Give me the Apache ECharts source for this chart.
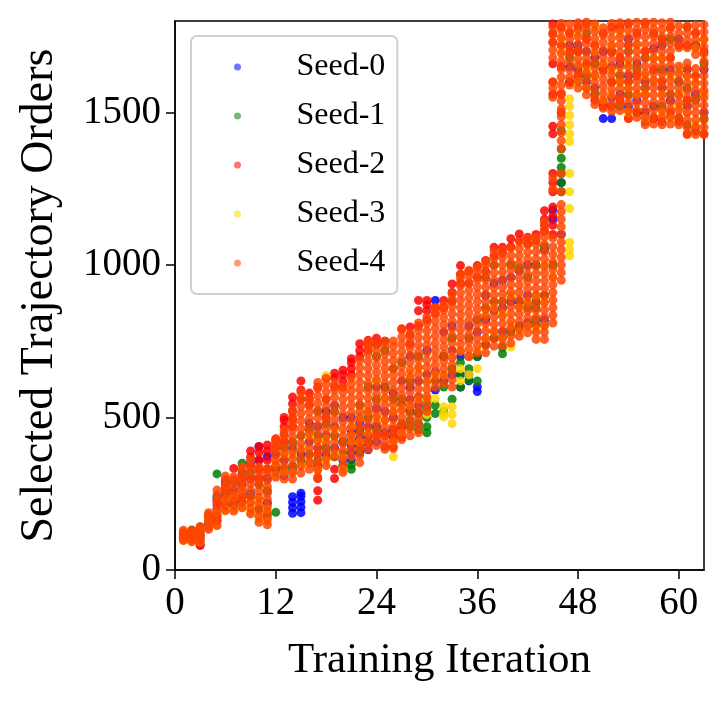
<!DOCTYPE html>
<html>
<head>
<meta charset="utf-8">
<script src="https://cdn.jsdelivr.net/npm/echarts@6/dist/echarts.min.js"></script>
<style>
  html, body { margin: 0; padding: 0; background: #fff; }
  #chart { width: 723px; height: 705px; }
</style>
</head>
<body>
<div id="chart"></div>
<script>
// training iterations (x positions of the columns)
const iterations = [1,2,3,4,5,6,7,8,9,10,11,12,13,14,15,16,17,18,19,20,21,22,23,24,25,26,27,28,29,30,31,32,
  33,34,35,36,37,38,39,40,41,42,43,44,45,46,47,48,49,50,51,52,53,54,55,56,57,58,59,60,61,62,63];
const xTicks = [0, 12, 24, 36, 48, 60];
const yTicks = [0, 500, 1000, 1500];
const seedNames = ["Seed-0", "Seed-1", "Seed-2", "Seed-3", "Seed-4"];
const seedColors = ["#0000ff", "#008000", "#ff0000", "#ffd700", "#ff4500"];

// selected trajectory orders, one list per iteration
const seed0Orders = [
  [104,120],[100,126],[84,112],[150,176],[160,200,238],[210,250,290],[214,262],[222,280,318],
  [250,300,350],[300,360,404],[220,300,372],[330,380],[310,360,420],[186,204,222,240,330,400],
  [188,206,224,242,252,380],[350,420,480],[340,400,470],[380,440,520],[400,470,540],[360,420,500],
  [362,384,406,430,452,500],[384,408,432,456,480,502],[394,416,440,470,520],[420,470,530,600],
  [450,520,600],[440,500,580],[470,540,620],[520,560,600,700],[515,540,565,620],[560,640,720],
  [590,650,884],[620,700,780],[640,720,800],[600,640,700],[620,640,700,800],[585,600,700,780],
  [740,820,900],[760,850,940],[780,860,950],[790,880,960],[800,880,980],[810,900,1000],
  [800,880,1000],[820,900,1050],[1150,1180],[1100,1270],[1650,1720],[1640,1720],[1600,1700],
  [1580,1680],[1480,1522,1700],[1480,1550,1650],[1560,1660],[1520,1620,1740],[1540,1660],
  [1500,1600],[1520,1710],[1580,1720],[1540,1640],[1600,1740],[1520,1640],[1560,1720],[1500,1640]
];
const seed1Orders = [
  [110],[116,130],[120,140],[160],[180,230,315],[240,280],[230,290],[260,350],
  [240,320],[200,280],[180,260],[189,340],[330,400],[340,420],[360,440],[380,460],
  [360,440,520],[400,480],[371,440,520],[340,380,420],[330,345,420],[390,460,540],[420,500,600],
  [460,560,700,740],[600,720,750],[460,560,660],[480,560,680],[470,490,520,620],[460,480,513,700],
  [450,470,500,530,556],[513,540,620],[520,600,700],[560,660,760],[600,640,680],[622,660,760],
  [620,700,820],[740,860,960],[760,880,1000],[709,730,764,880],[780,900,1000],[790,880,990],
  [800,860,960],[820,860,880,1000],[800,900,1060],[1000],[1240,1270,1300,1320,1350,1380,1440],
  [1600,1680],[1600,1700],[1620,1760],[1560,1660],[1530,1640],[1600,1700],[1520,1620],
  [1560,1700],[1500,1640],[1580,1680],[1480,1600],[1520,1640],[1560,1740],[1480,1600],
  [1460,1580],[1540,1720],[1480,1660]
];
const seed2Orders = [
  [100,118],[98,124],[80,100],[140,180],[170,220],[220,270],[240,333],[240,300],
  [300,340,370,390],[300,330,360,385,405],[330,360,390,410],[400,420,430],[420,445,470,490,500],
  [470,495,520,545,567],[560,590,620],[540,560,580],[229,260,300,340,380,600],[500,560,630],
  [300,330,600,630,645],[600,620,640,655],[640,660,680,693],[415,700,720,742],[415,720,740,753],
  [442,740,760],[404,440,750],[404,430,460],[436,470,790],[740,770,797],[800,850,884],
  [820,851,870,884],[840,860],[860,884],[880,910,938],[940,970,998],[940,980],[960,998],
  [980,1015],[1030,1058],[1040,1058],[1060,1086],[1080,1102],[1070,1091],[1080,1100],
  [1110,1130,1150,1178],
  [1100,1130,1160,1190,1240,1270,1300,1430,1455,1560,1600,1660,1730,1760,1790],
  [1500,1560,1650,1720,1780],[1600,1700,1760],[1620,1700,1780],[1580,1660,1740,1790],
  [1540,1620,1720],[1520,1640,1760],[1520,1600,1700,1780],[1540,1680,1780],[1480,1600,1720,1790],
  [1500,1620,1760],[1470,1560,1700,1790],[1480,1640,1760],[1470,1600,1740],[1500,1680,1780],
  [1470,1560,1720],[1430,1540,1720,1780],[1440,1620,1760],[1430,1560,1700]
];
const seed3Orders = [
  [96,112],[92,108],[92,130],[140,170],[146,190],[200,230],[198,240],[210,260],
  [190,220],[170,230],[160,200],[310,350],[320,380],[320,380],[340,400],[350,440],
  [330,420],[360,430,638],[380,460],[330,370],[420,440,470],[420,500],[450,520],[500,620],
  [491,560],[371,420,520],[450,530],[540,640],[560,660],[510,562,620],[562,640],
  [502,513,535,640],[480,510,535,700],[620,660,720],[640,700],[660,720],[760,840],[780,860],
  [760,840],[731,800,900],[780,860],[800,880],[790,900],[800,880,1000],[960],[1700,1740],
  [1030,1050,1075,1185,1240,1300,1405,1430,1460,1490,1520,1545],
  [1600,1660,1760],[1580,1640],[1620,1700,1780],[1540,1660],[1560,1640,1720],[1600,1760],
  [1500,1580,1660],[1560,1720],[1480,1560,1620],[1600,1680],[1500,1560,1680],[1480,1620],
  [1520,1560,1640],[1500,1620],[1460,1600,1710],[1560,1740]
];
const seed4Orders = [
  [97,104,111,118,125,130],[93,100,108,115,123,131],[88,97,106,116,125,134,143],
  [133,144,156,167,178,188],[146,162,179,196,212,229,246,262],[194,211,228,245,262,279,296,308],
  [193,210,227,244,261,278,295,306],[204,221,239,256,274,291,309,326,338],
  [184,203,222,241,262,283,304,324,343,362],[156,176,196,217,238,259,280,300,321,338],
  [148,168,189,210,231,252,273,294,314,333],[304,322,341,360,378,397,414,428],
  [298,318,339,360,381,402,422,441,458],[298,320,343,366,389,412,435,458,481,503,524],
  [318,342,366,391,415,440,464,489,513,537,560,582],[330,353,377,400,424,448,471,495,518,542,562],
  [304,328,352,377,401,426,450,474,499,523,547,571,595,615],
  [342,366,390,414,439,463,487,511,536,560,584,608,628],
  [372,396,420,444,469,493,517,541,566,590,612],
  [320,343,367,391,415,439,463,487,511,535,559,583,600],
  [372,396,420,444,468,492,516,540,564,588,610,630],
  [352,376,400,424,448,472,496,520,544,568,592,616,640,664,688],
  [396,420,444,468,492,516,540,564,588,612,636,660,684,708,730,748],
  [408,432,456,480,504,528,552,576,600,624,648,672,696,720,742],
  [396,420,444,468,492,516,540,564,588,612,636,660,684,708,732,750],
  [398,422,446,470,494,518,542,566,590,614,638,662,686,710,733,751],
  [428,452,476,500,524,548,572,596,620,644,668,692,716,740,764,790],
  [440,464,488,512,536,560,584,608,632,656,680,704,728,752,776],
  [450,474,498,522,546,570,594,618,642,666,690,714,738,762,786,810],
  [520,544,568,592,616,640,664,688,712,736,760,784,808,830],
  [600,624,648,672,696,720,744,768,792,816,840,860],
  [612,636,660,684,708,732,756,780,804,828,852,870],
  [600,624,648,672,696,720,744,768,792,816,840,864,888,906],
  [716,740,764,788,812,836,860,884,908,932,956,970],
  [700,724,748,772,796,820,844,868,892,916,940,964,982],
  [712,736,760,784,808,832,856,880,904,928,952,976,993],
  [712,736,760,784,808,832,856,880,904,928,952,976,1000,1012],
  [734,758,782,806,830,854,878,902,926,950,974,998,1022,1046],
  [736,760,784,808,832,856,880,904,928,952,976,1000,1024,1048],
  [744,768,792,816,840,864,888,912,936,960,984,1008,1032,1056],
  [766,790,814,838,862,886,910,934,958,982,1006,1030,1054,1078],
  [778,802,826,850,874,898,922,946,970,994,1018,1042,1066,1088],
  [756,780,804,828,852,876,900,924,948,972,996,1020,1044,1068,1088],
  [756,780,804,828,852,876,900,924,948,972,996,1020,1044,1068,1092,1116,1140],
  [810,835,860,885,910,935,960,985,1010,1035,1060,1088,1250,1285,1550,1580,1600,1680,1705,1730,1755,1780],
  [950,975,1000,1025,1050,1075,1100,1125,1150,1175,1198,1240,1300,1382,1408,1434,1460,1486,1512,1538,
   1564,1590,1616,1642,1668,1694,1720,1746,1772,1792],
  [1590,1615,1640,1665,1690,1715,1740,1765,1790],
  [1580,1604,1628,1652,1676,1700,1724,1748,1772,1794],
  [1558,1582,1606,1630,1654,1678,1702,1726,1750,1774,1796],
  [1526,1550,1574,1598,1622,1646,1670,1694,1718,1742,1766,1790],
  [1514,1538,1562,1586,1610,1634,1658,1682,1706,1730,1754,1778],
  [1504,1528,1552,1576,1600,1624,1648,1672,1696,1720,1744,1768,1792],
  [1506,1530,1554,1578,1602,1626,1650,1674,1698,1722,1746,1770,1794],
  [1482,1506,1530,1554,1578,1602,1626,1650,1674,1698,1722,1746,1770,1794],
  [1484,1508,1532,1556,1580,1604,1628,1652,1676,1700,1724,1748,1772,1796],
  [1460,1484,1508,1532,1556,1580,1604,1628,1652,1676,1700,1724,1748,1772,1796],
  [1462,1486,1510,1534,1558,1582,1606,1630,1654,1678,1702,1726,1750,1774,1796],
  [1460,1484,1508,1532,1556,1580,1604,1628,1652,1676,1700,1724,1748,1772,1794],
  [1462,1486,1510,1534,1558,1582,1606,1630,1654,1678,1702,1726,1750,1774,1796],
  [1460,1484,1508,1532,1556,1580,1604,1628,1652,1712,1736,1760,1784],
  [1428,1452,1476,1500,1524,1548,1572,1596,1620,1644,1662,1712,1736,1760,1784],
  [1428,1452,1476,1500,1524,1548,1572,1596,1620,1644,1690,1714,1738,1762,1786],
  [1428,1452,1476,1500,1524,1548,1572,1596,1620,1644,1668,1692,1716,1740,1764,1788]
];
const allOrders = [seed0Orders, seed1Orders, seed2Orders, seed3Orders, seed4Orders];

const FONT = "Liberation Serif";

function toPoints(orders) {
  const pts = [];
  orders.forEach((col, i) => {
    col.forEach(v => pts.push([iterations[i], v]));
  });
  return pts;
}

const chart = echarts.init(document.getElementById("chart"));

chart.setOption({
  animation: false,
  textStyle: { fontFamily: FONT },
  grid: {
    left: 175, right: 19, top: 21, bottom: 135,
    show: true, borderColor: "#000", borderWidth: 1.5
  },
  legend: {
    orient: "vertical",
    left: 191, top: 36,
    padding: [15, 12, 15, 43],
    itemGap: 17,
    itemWidth: 20, itemHeight: 7,
    icon: "circle",
    itemStyle: { opacity: 0.55 },
    backgroundColor: "#fff",
    borderColor: "#d0d0d0", borderWidth: 2, borderRadius: 6,
    textStyle: { fontFamily: FONT, fontSize: 32, color: "#000", lineHeight: 31, padding: [0, 0, 0, 44] },
    data: seedNames
  },
  xAxis: {
    type: "value", min: 0, max: 63, interval: 12,
    name: "Training Iteration", nameLocation: "middle", nameGap: 69,
    nameTextStyle: { fontFamily: FONT, fontSize: 43, color: "#000" },
    axisLine: { lineStyle: { color: "#000", width: 1.5 } },
    axisTick: { length: 9, lineStyle: { color: "#000", width: 1.5 } },
    axisLabel: {
      fontFamily: FONT, fontSize: 39, color: "#000", margin: 14, showMaxLabel: false,
      formatter: v => (xTicks.indexOf(v) >= 0 ? String(v) : "")
    },
    splitLine: { show: false }
  },
  yAxis: {
    type: "value", min: 0, max: 1800, interval: 500,
    name: "Selected Trajectory Orders", nameLocation: "middle", nameGap: 112,
    nameTextStyle: { fontFamily: FONT, fontSize: 46, color: "#000" },
    axisLine: { lineStyle: { color: "#000", width: 1.5 } },
    axisTick: { length: 9, lineStyle: { color: "#000", width: 1.5 } },
    axisLabel: {
      fontFamily: FONT, fontSize: 39, color: "#000", margin: 14, showMaxLabel: false,
      formatter: v => (yTicks.indexOf(v) >= 0 ? String(v) : "")
    },
    splitLine: { show: false }
  },
  series: allOrders.map((orders, k) => ({
    name: seedNames[k],
    type: "scatter",
    symbolSize: 9,
    clip: true,
    itemStyle: { color: seedColors[k], opacity: 0.85 },
    data: toPoints(orders)
  }))
});
</script>
</body>
</html>
